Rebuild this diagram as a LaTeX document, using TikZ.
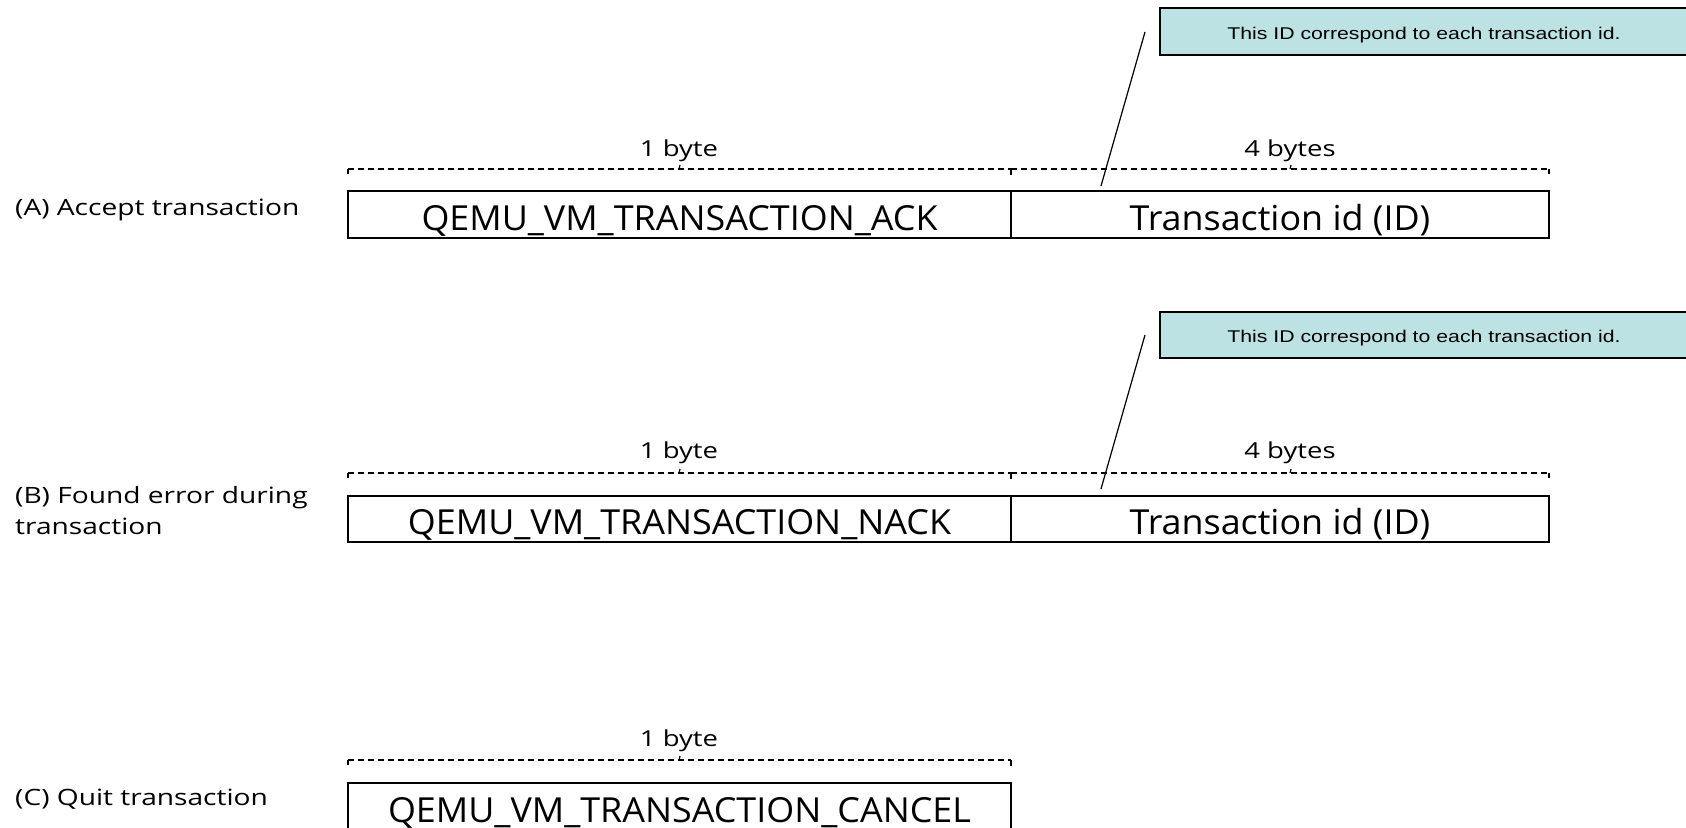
\documentclass[tikz,border=0pt]{standalone}
\usepackage{fontspec}
\setmainfont{Open Sans}
\newfontfamily\boxfont[FakeStretch=1.04]{Open Sans}
\newfontfamily\sidefont[FakeStretch=1.25]{Open Sans}
\newfontfamily\calloutfont[FakeStretch=1.25]{Liberation Sans}
\definecolor{calloutfill}{RGB}{189,226,228}
\begin{document}
\begin{tikzpicture}[x=1pt,y=-1pt,
  fieldbox/.style={draw,line width=2pt,rectangle,inner sep=0pt,text height=31pt,text depth=0pt,font=\boxfont\fontsize{34.5}{40}\selectfont},
  sidelabel/.style={anchor=west,align=left,inner sep=0pt,font=\sidefont\fontsize{22.5}{31}\selectfont},
  sizelabel/.style={inner sep=0pt,font=\sidefont\fontsize{22}{26}\selectfont},
  callout/.style={draw,line width=1.2pt,fill=calloutfill,rectangle,inner sep=0pt,text height=15pt,text depth=0pt,font=\calloutfont\fontsize{17}{20}\selectfont},
  brace/.style={line width=1.4pt,dash pattern=on 6pt off 4pt},
  tick/.style={line width=1.2pt},
  pointer/.style={line width=1.2pt}]
\useasboundingbox (0,0) rectangle (1686,827);
\clip (0,0) rectangle (1686,827);
\fill[white] (0,0) rectangle (1686,827);

% ---------- (A)
\node[sidelabel] (la) at (15,210) {(A) Accept transaction};
\node[fieldbox,minimum width=663pt,minimum height=47pt] (a1) at (679.5,214.5) {QEMU\_VM\_TRANSACTION\_ACK};
\node[fieldbox,minimum width=538pt,minimum height=47pt] (a2) at (1280,214.5) {Transaction id (ID)};
\node[sizelabel] (sa1) at (679,151) {1 byte};
\node[sizelabel] (sa2) at (1290,151) {4 bytes};
\draw[brace] (348,169) -- (1011,169);
\draw[brace] (1011,169) -- (1549,169);
\draw[tick] (348,169) -- (348,174) (1011,169) -- (1011,175) (1549,169) -- (1549,174);
\draw[tick] (679,169) -- (680,165) (1290,169) -- (1291,165);
\node[callout,minimum width=528pt,minimum height=47pt] (ca) at (1424,31.5) {This ID correspond to each transaction id.};
\coordinate (pa1) at (1145,32);
\coordinate (pa2) at (1101,186);
\draw[pointer] (pa1) -- (pa2);

% ---------- (B)
\node[sidelabel] (lb) at (15,511) {(B) Found error during\\transaction};
\node[fieldbox,minimum width=663pt,minimum height=46pt] (b1) at (679.5,518.5) {QEMU\_VM\_TRANSACTION\_NACK};
\node[fieldbox,minimum width=538pt,minimum height=46pt] (b2) at (1280,518.5) {Transaction id (ID)};
\node[sizelabel] (sb1) at (679,453) {1 byte};
\node[sizelabel] (sb2) at (1290,453) {4 bytes};
\draw[brace] (348,473) -- (1011,473);
\draw[brace] (1011,473) -- (1549,473);
\draw[tick] (348,473) -- (348,478) (1011,473) -- (1011,479) (1549,473) -- (1549,478);
\draw[tick] (679,473) -- (680,469) (1290,473) -- (1291,469);
\node[callout,minimum width=528pt,minimum height=46pt] (cb) at (1424,335) {This ID correspond to each transaction id.};
\coordinate (pb1) at (1145,335);
\coordinate (pb2) at (1101,489);
\draw[pointer] (pb1) -- (pb2);

% ---------- (C)
\node[sidelabel] (lc) at (15,799) {(C) Quit transaction};
\node[fieldbox,minimum width=663pt,minimum height=47pt] (c1) at (679.5,806.5) {QEMU\_VM\_TRANSACTION\_CANCEL};
\node[sizelabel] (sc1) at (679,741) {1 byte};
\draw[brace] (348,760) -- (1011,760);
\draw[tick] (348,760) -- (348,765) (1011,760) -- (1011,766);
\draw[tick] (679,760) -- (680,756);
\end{tikzpicture}
\end{document}
